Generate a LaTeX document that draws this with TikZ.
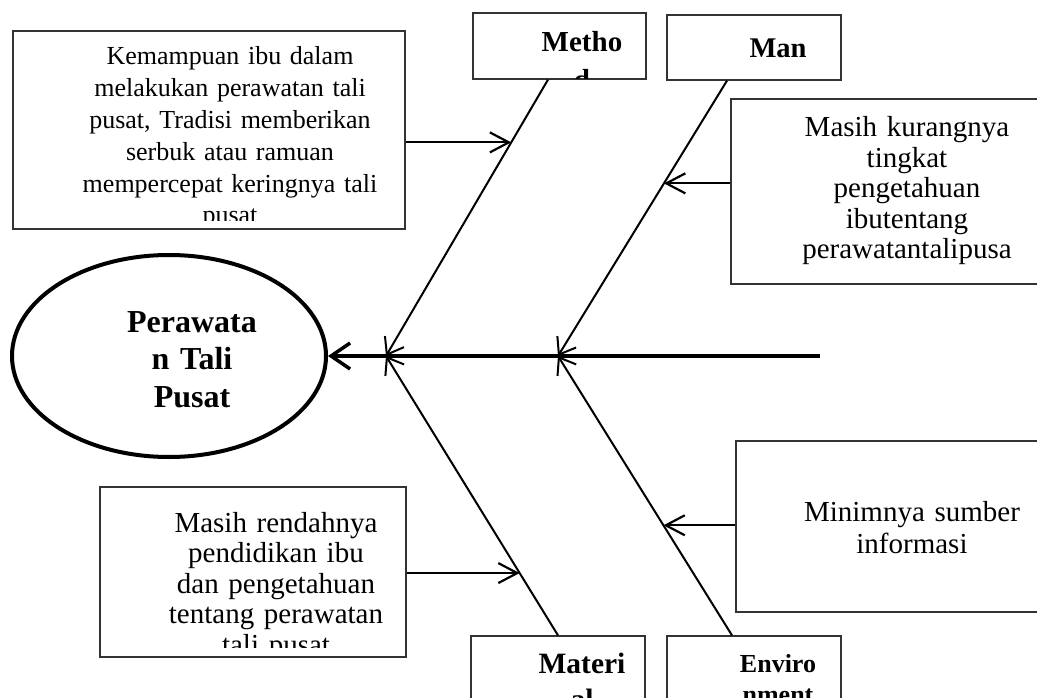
\documentclass[tikz,border=0pt]{standalone}
\usepackage{fontspec}
\setmainfont{Liberation Serif}
\usetikzlibrary{arrows.meta,shapes.geometric,calc}

\begin{document}
\begin{tikzpicture}[x=1pt,y=-1pt,
  frame/.style={draw=black!80, line width=1.3pt, rectangle, inner sep=0pt},
  body/.style={inner sep=0pt, anchor=base, align=center, text width=#1},
  spine/.style={line width=3.5pt, -{Straight Barb[length=19pt,width=26pt]}},
  bone/.style={line width=2pt, -{Straight Barb[length=15pt,width=22pt]}},
  feeder/.style={line width=2.2pt, -{Straight Barb[length=19pt,width=20pt]}}]

\clip (0,0) rectangle (1037,698);

% effect: the head of the fishbone
\node[draw, ellipse, line width=4pt, minimum width=314pt, minimum height=202pt, inner sep=0pt] (goal) at (169,356) {};
\node[body=200pt, font=\bfseries\fontsize{32}{37.5}\selectfont] (goaltext) at (192,332) {Perawata\\n Tali\\Pusat};

% category boxes
\node[frame, minimum width=173pt, minimum height=66pt] (metho) at (559.5,46) {};
\node[frame, minimum width=174pt, minimum height=65pt] (man) at (754,47.5) {};
\node[frame, minimum width=174pt, minimum height=79pt] (materi) at (558,675.5) {};
\node[frame, minimum width=174pt, minimum height=79pt] (enviro) at (754,675.5) {};

\begin{scope}
  \clip ($(metho.north west)+(1,1)$) rectangle ($(metho.south east)+(-1,-1)$);
  \node[body=150pt, font=\bfseries\fontsize{29}{38}\selectfont] (methotext) at (582,52) {Metho\\d};
\end{scope}
\node[body=150pt, font=\bfseries\fontsize{28.5}{33}\selectfont] (mantext) at (778,58) {Man};
\begin{scope}
  \clip ($(materi.north west)+(1,1)$) rectangle ($(materi.south east)+(-1,-1)$);
  \node[body=150pt, font=\bfseries\fontsize{29.5}{36}\selectfont] (materitext) at (582,673) {Materi\\al};
\end{scope}
\begin{scope}
  \clip ($(enviro.north west)+(1,1)$) rectangle ($(enviro.south east)+(-1,-1)$);
  \node[body=150pt, font=\bfseries\fontsize{26}{31}\selectfont] (envirotext) at (778,672) {Enviro\\nment};
\end{scope}

% cause boxes
\node[frame, minimum width=392pt, minimum height=198pt] (kbox) at (209,130) {};
\node[frame, minimum width=316pt, minimum height=185pt] (rtop) at (889,191.5) {};
\node[frame, minimum width=311pt, minimum height=171pt] (rbot) at (891.5,526.5) {};
\node[frame, minimum width=306pt, minimum height=170pt] (lbot) at (253,572) {};

\begin{scope}
  \clip ($(kbox.north west)+(1,1)$) rectangle ($(kbox.south east)+(-1,-9)$);
  \node[body=320pt, font=\fontsize{26}{31.8}\selectfont] (ktext) at (230,65)
    {Kemampuan ibu dalam\\melakukan perawatan tali\\pusat, Tradisi memberikan\\serbuk atau ramuan\\mempercepat keringnya tali\\pusat};
\end{scope}
\node[body=260pt, font=\fontsize{29}{30.5}\selectfont] (rtoptext) at (907,137)
  {Masih kurangnya\\tingkat\\pengetahuan\\ibutentang\\perawatantalipusa};
\node[body=260pt, font=\fontsize{29}{32}\selectfont] (rbottext) at (912,521)
  {Minimnya sumber\\informasi};
\begin{scope}
  \clip ($(lbot.north west)+(1,1)$) rectangle ($(lbot.south east)+(-1,-10)$);
  \node[body=280pt, font=\fontsize{29}{30.5}\selectfont] (lbottext) at (276,532)
    {Masih rendahnya\\pendidikan ibu\\dan pengetahuan\\tentang perawatan\\tali pusat};
\end{scope}

% spine and bones
\coordinate (tail) at (820,356);
\coordinate (j1) at (386,356);
\coordinate (j2) at (558,356);
\coordinate (mtop) at ($(metho.south)+(-11.5,0)$);
\coordinate (ntop) at ($(man.south)+(-27,0)$);
\coordinate (mbot) at ($(materi.north)+(0,0)$);
\coordinate (ebot) at ($(enviro.north)+(-22,0)$);

\draw[spine] (tail) -- (goal.east);
\draw[bone] (mtop) -- (j1);
\draw[bone] (mbot) -- (j1);
\draw[bone] (ntop) -- (j2);
\draw[bone] (ebot) -- (j2);

% causes feeding the bones
\coordinate (a1) at ($(mtop)!0.227!(j1)$);
\coordinate (a2) at ($(ntop)!0.373!(j2)$);
\coordinate (a3) at ($(mbot)!0.223!(j1)$);
\coordinate (a4) at ($(ebot)!0.394!(j2)$);

\draw[feeder] (kbox.east |- a1) -- (a1);
\draw[feeder] (rtop.west |- a2) -- (a2);
\draw[feeder] (lbot.east |- a3) -- (a3);
\draw[feeder] (rbot.west |- a4) -- (a4);
\end{tikzpicture}
\end{document}
